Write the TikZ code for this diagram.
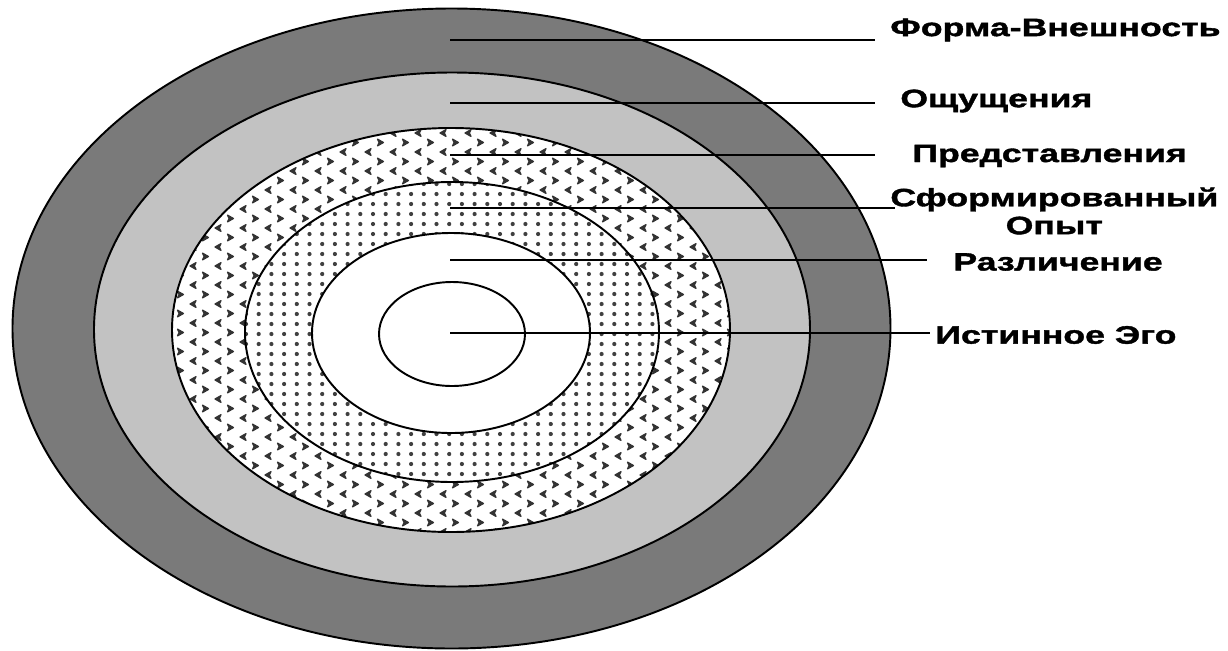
\documentclass[tikz,border=0pt]{standalone}
\usepackage{fontspec}
\setmainfont{Liberation Sans}
\newfontfamily\lblfont{Liberation Sans}[FakeStretch=1.42,FakeBold=1.5]
\begin{document}
\begin{tikzpicture}[x=0.02cm,y=-0.02cm,
  ring/.style={draw=black,line width=1.1pt},
  chev/.style={fill=black!80,draw=black!80,line width=0.7pt,line join=round},
  lead/.style={line width=0.9pt},
  lbl/.style={anchor=west,inner sep=0pt,
    font=\lblfont\bfseries\fontsize{14.3}{15.9}\selectfont}]
  \useasboundingbox (0,0) rectangle (1228,650);
  % outer rings, plain tints
  \fill[black!52] (451.5,328.5) ellipse [x radius=439,y radius=320];
  \fill[black!24] (452,329.5) ellipse [x radius=358,y radius=257];
  % ring of chevrons
  \fill[white] (451,330) ellipse [x radius=279,y radius=202];
  \begin{scope}
    \clip (451,330) ellipse [x radius=279,y radius=202];
    \foreach \j in {0,...,43}{
      \foreach \i in {0,...,23}{
        \pgfmathsetmacro{\x}{168+25*\i+12.5*mod(\j,2)}
        \pgfmathsetmacro{\y}{133+9.5*\j}
        \pgfmathsetmacro{\d}{1-2*mod(\j,2)}
        \filldraw[chev] (\x-3*\d,\y) -- (\x+3*\d,\y-3.4) -- (\x+1.4*\d,\y)
          -- (\x+3*\d,\y+3.4) -- cycle;
      }
    }
  \end{scope}
  % ring of dots
  \fill[white] (452,332) ellipse [x radius=207,y radius=150];
  \begin{scope}
    \clip (452,332) ellipse [x radius=207,y radius=150];
    \foreach \j in {0,...,30}{
      \foreach \i in {0,...,33}{
        \fill[black!75] (246+12.7*\i,184+10*\j) circle [radius=2.1];
      }
    }
  \end{scope}
  \fill[white] (451,333) ellipse [x radius=139,y radius=100];
  % borders
  \draw[ring] (451.5,328.5) ellipse [x radius=439,y radius=320];
  \draw[ring] (452,329.5) ellipse [x radius=358,y radius=257];
  \draw[ring] (451,330) ellipse [x radius=279,y radius=202];
  \draw[ring] (452,332) ellipse [x radius=207,y radius=150];
  \draw[ring] (451,333) ellipse [x radius=139,y radius=100];
  \draw[ring] (452,334) ellipse [x radius=73,y radius=52];
  % labels
  \node[lbl] (forma) at (890,30) {Форма-Внешность};
  \node[lbl] (oshch) at (900,101) {Ощущения};
  \node[lbl] (pred) at (912,156) {Представления};
  \node[lbl,align=center] (opyt) at (890,211) {Сформированный\\Опыт};
  \node[lbl] (razl) at (953,262) {Различение};
  \node[lbl] (ego) at (935,335) {Истинное Эго};
  % leaders
  \foreach \n/\y/\e in {1/40/875,2/103/875,3/155/875,4/208/895,5/260/927,6/333/930}{
    \coordinate (s\n) at (450,\y);
    \coordinate (e\n) at (\e,\y);
    \draw[lead] (s\n) -- (e\n);
  }
\end{tikzpicture}
\end{document}
